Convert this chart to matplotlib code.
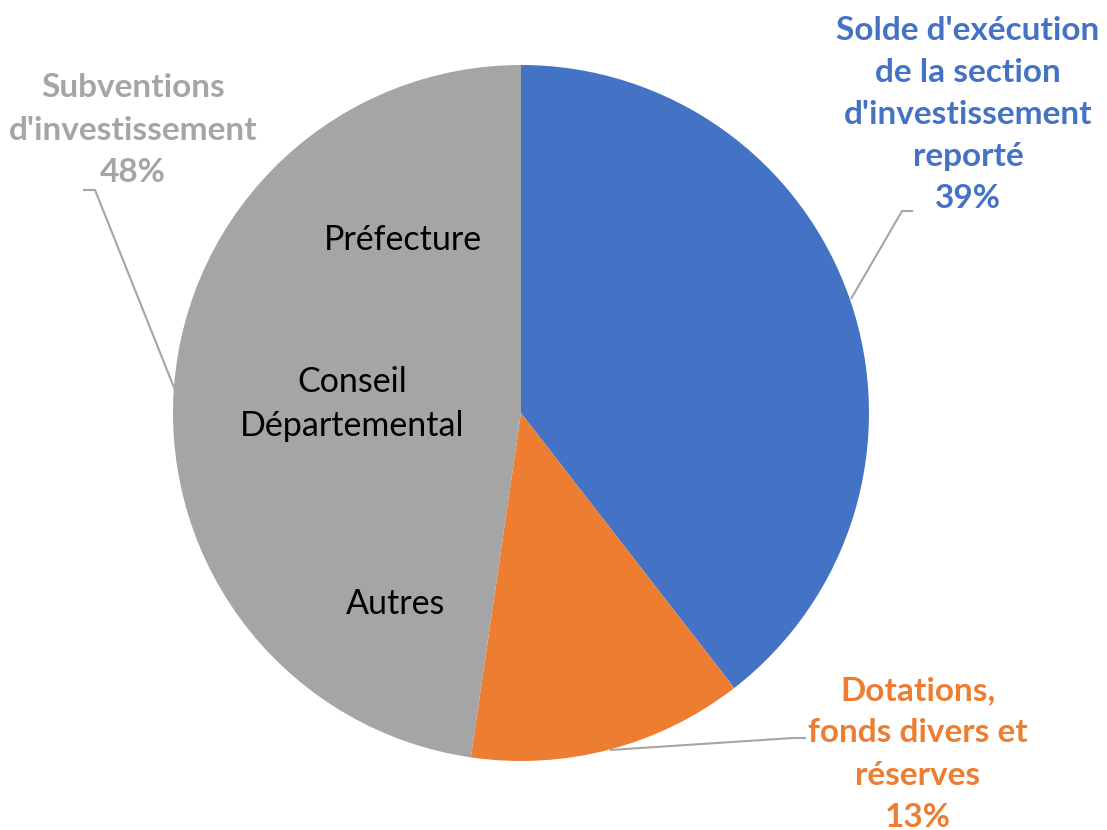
import matplotlib.pyplot as plt

plt.rcParams['font.family'] = ['Lato', 'DejaVu Sans']

# slices, clockwise from the top
labels = ["Solde d'exécution\nde la section\nd'investissement\nreporté",
          "Dotations,\nfonds divers et\nréserves",
          "Subventions\nd'investissement"]
shares = [39.5, 12.8, 47.7]
pct_labels = ['39%', '13%', '48%']
colors = ['#4472C4', '#ED7D31', '#A5A5A5']
inner_labels = ['Préfecture', 'Conseil\nDépartemental', 'Autres']

W, H = 1107, 830
fig = plt.figure(figsize=(W / 100, H / 100), dpi=100)
ax = fig.add_axes([0, 0, 1, 1])

cx, cy, r = 521, H - 413, 348

ax.pie(shares, colors=colors, startangle=90, counterclock=False,
       center=(cx, cy), radius=r, frame=True,
       wedgeprops=dict(linewidth=0))
ax.set_xlim(0, W)
ax.set_ylim(0, H)
ax.set_aspect('equal')
ax.axis('off')

# outside labels (name + percent)
label_pos = [(968, H - 114.5), (918, H - 754), (133, H - 130)]
for lab, pct, col, (x, y) in zip(labels, pct_labels, colors, label_pos):
    ax.text(x, y, f'{lab}\n{pct}', color=col, fontsize=24, fontweight='bold',
            ha='center', va='center', linespacing=1.55)

# leader lines
lead = [([851, 902, 913], [299, 211, 211]),
        ([610, 793, 806], [750, 738, 738]),
        ([175, 95, 83], [390, 190, 190])]
for xs, ys in lead:
    ax.plot(xs, [H - y for y in ys], color='#A5A5A5', lw=1.5,
            solid_capstyle='butt')

# names inside the grey slice
inner_pos = [(403, H - 240), (352, H - 404), (396, H - 604)]
for txt, (x, y) in zip(inner_labels, inner_pos):
    ax.text(x, y, txt, color='black', fontsize=24.5, ha='center', va='center',
            linespacing=1.48)

fig.savefig('out.png', dpi=100)
